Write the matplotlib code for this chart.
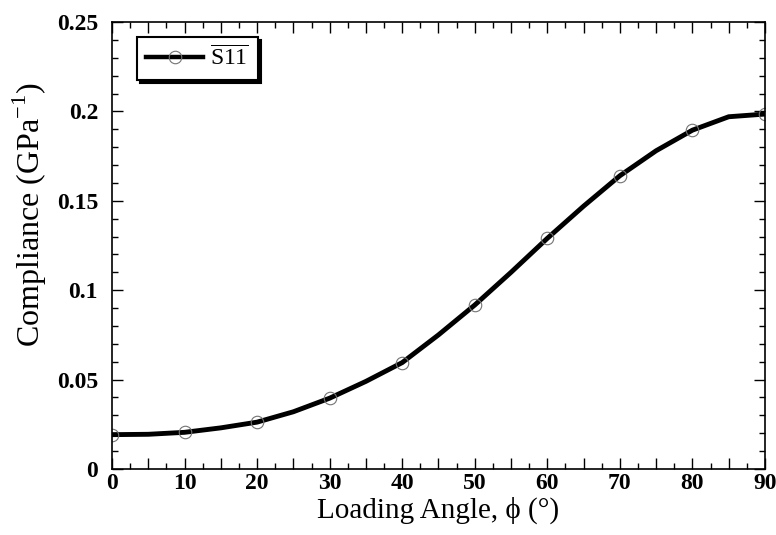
"""Compliance S11 vs loading angle."""

import matplotlib.pyplot as plt
from matplotlib.ticker import MultipleLocator, FuncFormatter

plt.rcParams.update(
    {
        "font.family": ["Liberation Serif", "DejaVu Serif"],
        "mathtext.fontset": "custom",
        "mathtext.rm": "Liberation Serif",
        "xtick.direction": "in",
        "ytick.direction": "in",
        "xtick.top": True,
        "ytick.right": True,
    }
)

# smooth curve (every 5 deg) and marked points (every 10 deg)
line_angle = [0, 5, 10, 15, 20, 25, 30, 35, 40, 45, 50, 55, 60, 65, 70, 75, 80, 85, 90]
line_s11 = [0.0192, 0.0194, 0.0205, 0.0230, 0.0262, 0.0320, 0.0396, 0.0490, 0.0595,
            0.0750, 0.0917, 0.1100, 0.1290, 0.1470, 0.1640, 0.1780, 0.1895, 0.1970, 0.1985]
point_angle = [0, 10, 20, 30, 40, 50, 60, 70, 80, 90]
point_s11 = [0.0192, 0.0205, 0.0262, 0.0396, 0.0595, 0.0917, 0.1290, 0.1640, 0.1895, 0.1985]

fig = plt.figure(figsize=(7.76, 5.35), dpi=100)
ax = fig.add_axes([0.1443, 0.1234, 0.8415, 0.8355])

ax.plot(line_angle, line_s11, color="black", linewidth=3.5, solid_joinstyle="miter")
ax.plot(point_angle, point_s11, linestyle="none", marker="o", markersize=9,
        markerfacecolor="none", markeredgecolor="0.45", markeredgewidth=0.8)
# proxy for legend
handle, = ax.plot([], [], color="black", linewidth=3.2, marker="o", markersize=9,
                  markerfacecolor="none", markeredgecolor="0.45", markeredgewidth=0.8)

ax.set_xlim(0, 90)
ax.set_ylim(0, 0.25)
ax.xaxis.set_major_locator(MultipleLocator(5))
ax.xaxis.set_minor_locator(MultipleLocator(2.5))
ax.xaxis.set_major_formatter(FuncFormatter(lambda v, p: f"{int(v)}" if v % 10 == 0 else ""))
ax.yaxis.set_major_locator(MultipleLocator(0.05))
ax.yaxis.set_minor_locator(MultipleLocator(0.01))
ax.yaxis.set_major_formatter(FuncFormatter(lambda v, p: "0" if v == 0 else f"{v:g}"))

ax.tick_params(which="major", length=8, width=1, labelsize=17)
ax.tick_params(axis="x", which="major", pad=3)
ax.tick_params(axis="y", which="major", pad=10)
ax.tick_params(which="minor", length=4, width=1)
for lab in ax.get_xticklabels() + ax.get_yticklabels():
    lab.set_fontweight("bold")
for s in ax.spines.values():
    s.set_linewidth(1.2)

ax.set_xlabel("Loading Angle, \u03d5 (\u00b0)", fontsize=21, labelpad=2)
ax.set_ylabel("Compliance (GPa$^{-1}$)", fontsize=23)
ax.yaxis.set_label_coords(-0.097, 0.568)

leg = ax.legend([handle], [r"$\overline{\mathrm{S11}}$"], loc="upper left",
                bbox_to_anchor=(0.038, 0.966), borderaxespad=0, fancybox=False,
                framealpha=1, edgecolor="black", fontsize=17, handlelength=2.4,
                handletextpad=0.3, borderpad=0.4,
                shadow={"color": "black", "alpha": 1})
leg.get_frame().set_linewidth(1.5)

fig.savefig("out.png", dpi=100)
